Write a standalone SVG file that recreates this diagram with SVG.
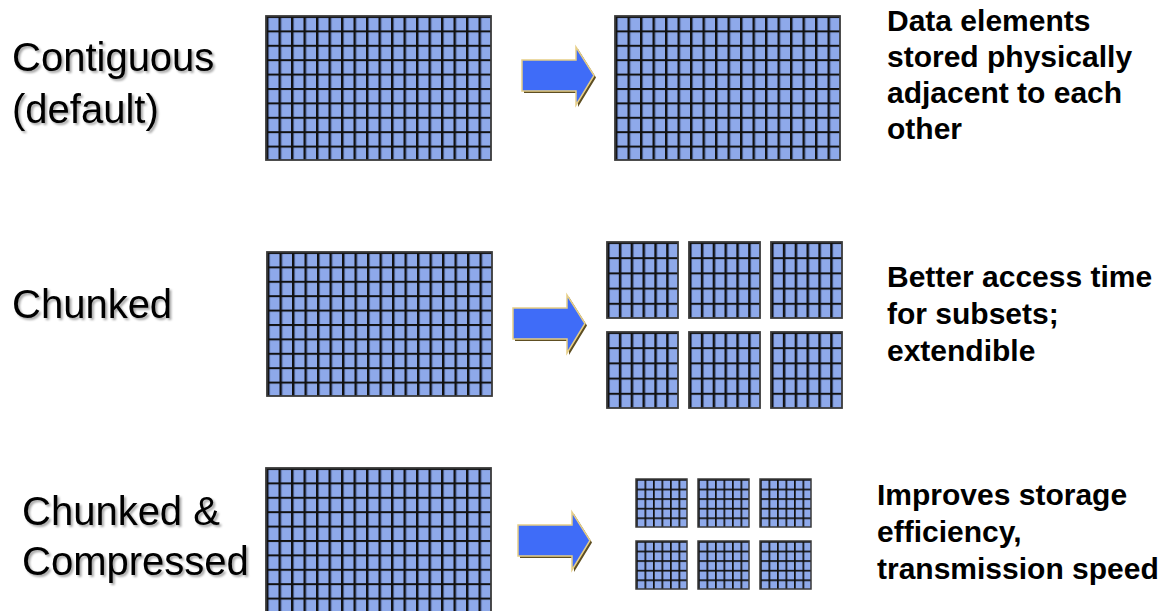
<svg xmlns="http://www.w3.org/2000/svg" width="1169" height="611" viewBox="0 0 1169 611">
<defs>
<style>
.lbl{font-family:"Liberation Sans",Arial,sans-serif;font-size:40px;fill:#000;filter:url(#tshadow)}
.desc{font-family:"Liberation Sans",Arial,sans-serif;font-size:30px;font-weight:bold;fill:#000}
.big{fill:url(#pBig);stroke:#3a3a3a;stroke-width:1.8}
.mid{fill:url(#pMid);stroke:#3a3a3a;stroke-width:1.8}
.sml{fill:url(#pSml);stroke:#3a3a3a;stroke-width:1.5}
</style>
<filter id="tshadow" x="-10%" y="-20%" width="130%" height="150%">
<feDropShadow dx="2" dy="2" stdDeviation="1.2" flood-color="#000" flood-opacity="0.35"/>
</filter>
<pattern id="pBig" patternUnits="userSpaceOnUse" width="12.5" height="14.4">
<rect width="12.5" height="14.4" fill="#8EA9EA"/>
<rect width="2" height="14.4" fill="#111"/>
<rect x="2" width="1" height="14.4" fill="#3d4e78"/>
<rect width="12.5" height="2" fill="#111"/>
</pattern>
<pattern id="pMid" patternUnits="userSpaceOnUse" width="11.833" height="15.2">
<rect width="11.833" height="15.2" fill="#8EA9EA"/>
<rect width="2" height="15.2" fill="#111"/>
<rect x="2" width="1" height="15.2" fill="#3d4e78"/>
<rect width="11.833" height="2" fill="#111"/>
</pattern>
<pattern id="pSml" patternUnits="userSpaceOnUse" width="8.5" height="9.6">
<rect width="8.5" height="9.6" fill="#8EA9EA"/>
<rect width="1.7" height="9.6" fill="#111"/>
<rect width="8.5" height="1.7" fill="#111"/>
</pattern>
<g id="arrowShape">
<path d="M2,2 H56 V-11 L74,17.5 L56,47 V33 H2 Z" fill="#5E4E22"/>
<path d="M0,0 H54 V-13 L72,15.5 L54,45 V31 H0 Z" fill="#3F6CF8" stroke="#E6CE86" stroke-width="1.5" stroke-linejoin="miter"/>
</g>
</defs>
<rect width="1169" height="611" fill="#fff"/>

<g id="row-contiguous">
<text class="lbl" x="12" y="71">Contiguous</text>
<text class="lbl" x="12" y="123">(default)</text>
<rect class="big" x="0" y="0" width="225" height="144" transform="translate(266,16)"/>
<rect class="big" x="0" y="0" width="225" height="144" transform="translate(615,16)"/>
<text class="desc" x="887" y="31">Data elements</text>
<text class="desc" x="887" y="67">stored physically</text>
<text class="desc" x="887" y="103">adjacent to each</text>
<text class="desc" x="887" y="139">other</text>
</g>

<g id="row-chunked">
<text class="lbl" x="12" y="318">Chunked</text>
<rect class="big" x="0" y="0" width="225" height="144" transform="translate(267,252)"/>
<rect class="mid" width="71" height="76" transform="translate(607,242)"/>
<rect class="mid" width="71" height="76" transform="translate(689,242)"/>
<rect class="mid" width="71" height="76" transform="translate(771,242)"/>
<rect class="mid" width="71" height="76" transform="translate(607,332)"/>
<rect class="mid" width="71" height="76" transform="translate(689,332)"/>
<rect class="mid" width="71" height="76" transform="translate(771,332)"/>
<text class="desc" x="887" y="287">Better access time</text>
<text class="desc" x="887" y="324">for subsets;</text>
<text class="desc" x="887" y="361">extendible</text>
</g>

<g id="row-compressed">
<text class="lbl" x="22" y="525">Chunked &amp;</text>
<text class="lbl" x="22" y="575">Compressed</text>
<rect class="big" x="0" y="0" width="225" height="144" transform="translate(266,468)"/>
<rect class="sml" width="51" height="48" transform="translate(636,479)"/>
<rect class="sml" width="51" height="48" transform="translate(698,479)"/>
<rect class="sml" width="51" height="48" transform="translate(760,479)"/>
<rect class="sml" width="51" height="48" transform="translate(636,541)"/>
<rect class="sml" width="51" height="48" transform="translate(698,541)"/>
<rect class="sml" width="51" height="48" transform="translate(760,541)"/>
<text class="desc" x="877" y="505">Improves storage</text>
<text class="desc" x="877" y="542">efficiency,</text>
<text class="desc" x="877" y="579">transmission speed</text>
</g>

<g id="connectors">
<use href="#arrowShape" transform="translate(522,60)"/>
<use href="#arrowShape" transform="translate(513,308)"/>
<use href="#arrowShape" transform="translate(518,525)"/>
</g>
</svg>
